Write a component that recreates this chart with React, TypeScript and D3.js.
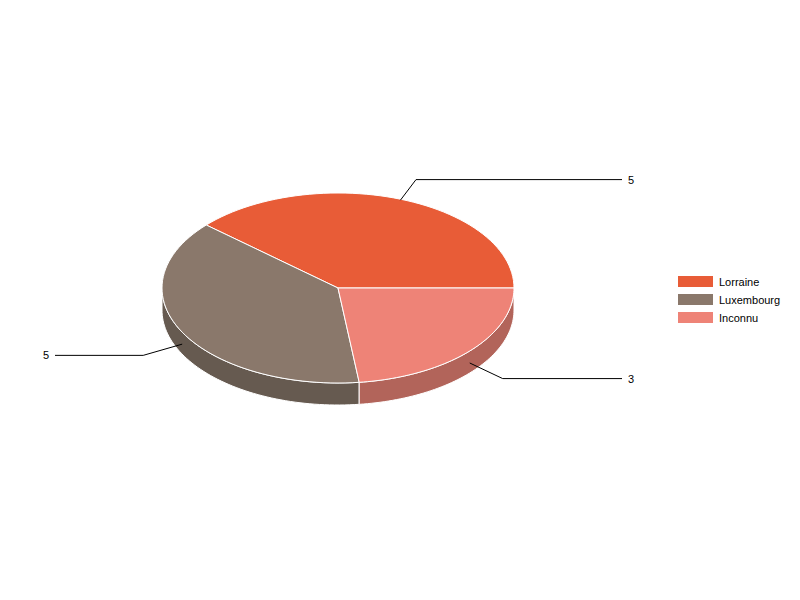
import React from "react";
import * as d3 from "d3";

const categories = ["Lorraine", "Luxembourg", "Inconnu"];
const values = [5, 5, 3];
const topColors = ["#e85c37", "#8a786b", "#ee8377"];
const sideColors = ["#b0452a", "#665a50", "#b2645a"];

const W = 800, H = 600;
const cx = 338, cy = 288, rx = 176, ry = 95, depth = 22;
const toRad = (d: number) => (d * Math.PI) / 180;
const pt = (a: number, dy = 0, ex = 0, ey = 0): [number, number] => [
  cx + (rx + ex) * Math.cos(toRad(a)),
  cy + dy - (ry + ey) * Math.sin(toRad(a)),
];

export default function App() {
  const total = d3.sum(values);
  const angle = d3.scaleLinear().domain([0, total]).range([0, 360]);
  const cum = d3.cumsum(values);
  const slices = values.map((v, i) => {
    const a0 = angle(i === 0 ? 0 : cum[i - 1]);
    const a1 = angle(cum[i]);
    return { a0, a1, v, i };
  });
  const line = d3.line<[number, number]>();
  const sample = (s: number, e: number, dy = 0) =>
    d3.range(0, 61).map((k) => pt(s + ((e - s) * k) / 60, dy));

  const sides = slices
    .map((s) => {
      const st = Math.max(s.a0, 180);
      const en = Math.min(s.a1, 360);
      if (en <= st) return null;
      const pts = [...sample(st, en, 0), ...sample(en, st, depth)];
      return { d: line(pts) + "Z", i: s.i };
    })
    .filter(Boolean) as { d: string; i: number }[];

  const tops = slices.map((s) => ({
    d: line([[cx, cy], ...sample(s.a0, s.a1)]) + "Z",
    i: s.i,
  }));

  const labels = slices.map((s) => {
    const mid = (s.a0 + s.a1) / 2;
    const lower = Math.sin(toRad(mid)) < 0;
    const start = pt(mid, lower ? depth / 2 + 1 : 1);
    const bend = pt(mid, lower ? depth / 2 + 1 : 0, 44, 22);
    const right = Math.cos(toRad(mid)) >= 0;
    const endX = right ? 622 : 55;
    return { s, start, bend, endX, right };
  });

  return (
    <svg width={W} height={H} style={{ display: "block", position: "absolute", left: 0, top: 0 }}
      fontFamily="'Liberation Sans', Arial, sans-serif">
      <rect width={W} height={H} fill="#fff" />
      {sides.map((s) => (
        <path key={"s" + s.i} d={s.d} fill={sideColors[s.i]} stroke="#fff" strokeWidth={1} />
      ))}
      {tops.map((t) => (
        <path key={"t" + t.i} d={t.d} fill={topColors[t.i]} stroke="#fff" strokeWidth={1} />
      ))}
      {labels.map((l) => (
        <g key={"l" + l.s.i}>
          <polyline
            points={`${l.start[0]},${l.start[1]} ${l.bend[0]},${l.bend[1] + 1} ${l.endX},${l.bend[1] + 1}`}
            fill="none" stroke="#000" strokeWidth={1} />
          <text x={l.right ? l.endX + 6 : l.endX - 6} y={l.bend[1] + 5} fontSize={11}
            textAnchor={l.right ? "start" : "end"} fill="#000">{l.s.v}</text>
        </g>
      ))}
      {categories.map((c, i) => (
        <g key={c}>
          <rect x={678} y={276 + i * 18} width={35} height={11} fill={topColors[i]} />
          <text x={719} y={286 + i * 18} fontSize={11} fill="#000">{c}</text>
        </g>
      ))}
    </svg>
  );
}
